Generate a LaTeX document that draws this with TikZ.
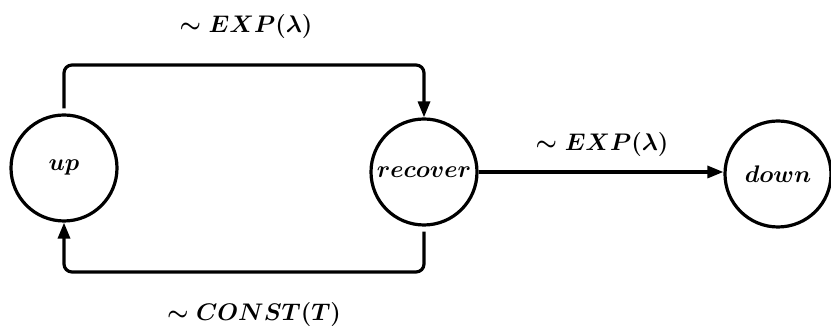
\documentclass[tikz,border=0pt]{standalone}
\usetikzlibrary{arrows.meta}
\begin{document}
\begin{tikzpicture}[x=0.5pt,y=0.5pt,
    state/.style={draw,circle,line width=1.6pt,minimum size=53pt,inner sep=0pt,
      font=\fontsize{13}{15}\selectfont\boldmath},
    arr/.style={line width=1.6pt,-{Triangle[length=8pt,width=6pt]},rounded corners=4pt},
    lbl/.style={font=\fontsize{13}{15}\selectfont\boldmath}]
  \useasboundingbox (0,0) rectangle (831,336);
  % states
  \node[state] (up)      at (64,168)  {$up$};
  \node[state] (recover) at (424,164) {$recover$};
  \node[state] (down)    at (778,162) {$down$};
  % transitions
  \coordinate (top) at (245,271);
  \coordinate (bot) at (245,64);
  \draw[arr,shorten <=2.5pt] (up.north) |- (top) -| (recover.north);
  \draw[arr,shorten <=2.5pt] (recover.south) |- (bot) -| (up.south);
  \draw[arr] (recover.east) -- (recover.east -| down.west);
  % rates
  \node[lbl] (rateup)   at (246,309) {$\sim EXP(\lambda)$};
  \node[lbl] (ratedown) at (602,191) {$\sim EXP(\lambda)$};
  \node[lbl] (rateback) at (254,21)  {$\sim CONST(T)$};
\end{tikzpicture}
\end{document}
